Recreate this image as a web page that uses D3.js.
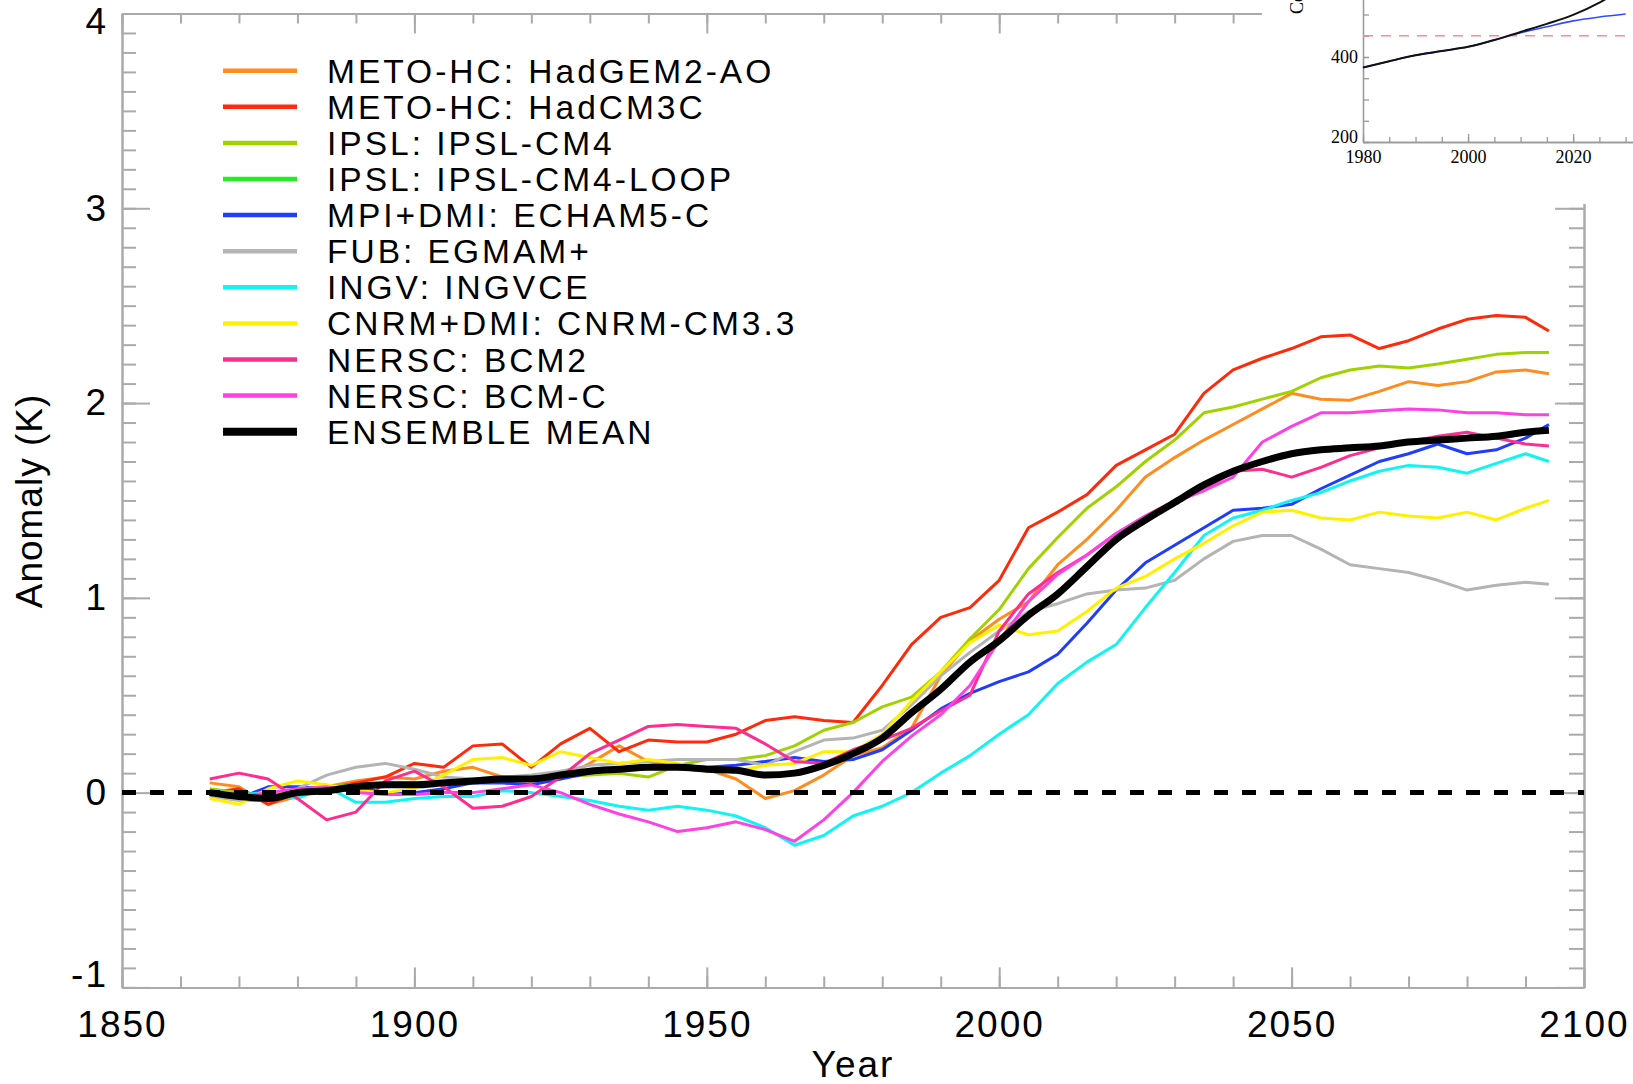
<!DOCTYPE html>
<html>
<head>
<meta charset="utf-8">
<script src="https://cdn.jsdelivr.net/npm/d3@7"></script>
<style>
  body { margin: 0; background: #fff; }
  svg { display: block; font-family: "Liberation Sans", Arial, sans-serif; }
</style>
</head>
<body>
<svg id="chart" width="1633" height="1084"></svg>
<script>
// sample years (read every 5 years off the figure, last point 2094)
const years = [1865, 1870, 1875, 1880, 1885, 1890, 1895, 1900, 1905, 1910, 1915, 1920, 1925, 1930, 1935,
  1940, 1945, 1950, 1955, 1960, 1965, 1970, 1975, 1980, 1985, 1990, 1995, 2000, 2005, 2010,
  2015, 2020, 2025, 2030, 2035, 2040, 2045, 2050, 2055, 2060, 2065, 2070, 2075, 2080, 2085,
  2090, 2094];

// temperature anomaly (K) per model
const hadgem2ao = [0.05, 0.03, -0.06, -0.02, 0.03, 0.06, 0.08, 0.07, 0.11, 0.13, 0.08, 0.06, 0.07, 0.15, 0.24,
  0.16, 0.13, 0.12, 0.07, -0.03, 0.01, 0.09, 0.19, 0.23, 0.33, 0.60, 0.78, 0.89, 0.98, 1.17,
  1.30, 1.45, 1.62, 1.72, 1.81, 1.89, 1.97, 2.05, 2.02, 2.015, 2.06, 2.11, 2.09, 2.11, 2.16,
  2.17, 2.15];
const hadcm3c = [0.0, 0.02, -0.06, 0.0, 0.02, 0.05, 0.08, 0.15, 0.13, 0.24, 0.25, 0.13, 0.25, 0.33, 0.21,
  0.27, 0.26, 0.26, 0.30, 0.37, 0.39, 0.37, 0.36, 0.55, 0.76, 0.90, 0.95, 1.09, 1.36, 1.44,
  1.53, 1.68, 1.76, 1.84, 2.05, 2.17, 2.23, 2.28, 2.34, 2.35, 2.28, 2.32, 2.38, 2.43, 2.45,
  2.44, 2.37];
const ipslcm4 = [0.02, 0.0, -0.02, 0.02, 0.03, 0.04, 0.05, 0.05, 0.06, 0.07, 0.07, 0.08, 0.08, 0.09, 0.10,
  0.08, 0.14, 0.17, 0.17, 0.19, 0.24, 0.32, 0.36, 0.44, 0.49, 0.62, 0.79, 0.94, 1.15, 1.31,
  1.46, 1.57, 1.70, 1.81, 1.95, 1.98, 2.02, 2.06, 2.13, 2.17, 2.19, 2.18, 2.20, 2.225, 2.25,
  2.26, 2.26];
const ipslcm4loop = []; // in the legend, no curve visible in the plot
const echam5c = [-0.01, -0.03, 0.03, 0.03, 0.02, 0.03, 0.0, 0.0, 0.02, 0.05, 0.05, 0.04, 0.07, 0.10, 0.12,
  0.13, 0.14, 0.13, 0.14, 0.16, 0.18, 0.16, 0.17, 0.22, 0.32, 0.43, 0.51, 0.57, 0.62, 0.71,
  0.87, 1.04, 1.18, 1.27, 1.36, 1.45, 1.46, 1.48, 1.56, 1.63, 1.70, 1.74, 1.79, 1.74, 1.76,
  1.82, 1.89];
const egmam = [-0.02, -0.04, -0.04, 0.02, 0.09, 0.13, 0.15, 0.12, 0.08, 0.07, 0.08, 0.09, 0.11, 0.14, 0.15,
  0.16, 0.17, 0.17, 0.17, 0.14, 0.21, 0.27, 0.28, 0.32, 0.45, 0.60, 0.72, 0.83, 0.93, 0.97,
  1.02, 1.04, 1.05, 1.09, 1.20, 1.29, 1.32, 1.32, 1.25, 1.17, 1.15, 1.13, 1.09, 1.04, 1.065,
  1.08, 1.07];
const ingvce = [0.01, -0.01, 0.0, -0.03, 0.03, -0.05, -0.05, -0.03, -0.02, -0.02, 0.01, 0.0, -0.02, -0.04, -0.07,
  -0.09, -0.07, -0.09, -0.12, -0.18, -0.27, -0.22, -0.12, -0.07, 0.0, 0.10, 0.19, 0.30, 0.40, 0.56,
  0.67, 0.76, 0.95, 1.13, 1.32, 1.41, 1.45, 1.50, 1.54, 1.60, 1.65, 1.68, 1.67, 1.64, 1.69,
  1.74, 1.70];
const cnrmcm33 = [-0.03, -0.06, 0.02, 0.06, 0.04, 0.01, 0.0, 0.02, 0.09, 0.17, 0.18, 0.14, 0.21, 0.18, 0.15,
  0.17, 0.15, 0.11, 0.11, 0.14, 0.15, 0.21, 0.21, 0.30, 0.47, 0.62, 0.77, 0.86, 0.81, 0.83,
  0.93, 1.05, 1.11, 1.20, 1.28, 1.37, 1.44, 1.45, 1.41, 1.40, 1.44, 1.42, 1.41, 1.44, 1.40,
  1.46, 1.50];
const bcm2 = [0.07, 0.10, 0.07, -0.03, -0.14, -0.10, 0.06, 0.11, 0.03, -0.08, -0.07, -0.02, 0.08, 0.20, 0.27,
  0.34, 0.35, 0.34, 0.33, 0.25, 0.16, 0.15, 0.22, 0.27, 0.33, 0.42, 0.50, 0.83, 1.02, 1.13,
  1.22, 1.33, 1.42, 1.50, 1.55, 1.65, 1.66, 1.62, 1.67, 1.73, 1.77, 1.80, 1.83, 1.85, 1.82,
  1.79, 1.78];
const bcmc = [0.0, -0.02, 0.0, 0.02, 0.03, 0.0, -0.01, -0.01, 0.0, 0.0, 0.02, 0.04, 0.0, -0.06, -0.11,
  -0.15, -0.20, -0.18, -0.15, -0.19, -0.25, -0.14, 0.0, 0.16, 0.29, 0.40, 0.55, 0.78, 0.98, 1.12,
  1.22, 1.33, 1.42, 1.49, 1.55, 1.62, 1.80, 1.88, 1.95, 1.95, 1.96, 1.97, 1.965, 1.95, 1.95,
  1.94, 1.94];
const ensembleMean = [0.0, -0.02, -0.03, 0.0, 0.01, 0.03, 0.04, 0.04, 0.05, 0.06, 0.07, 0.07, 0.09, 0.11, 0.12,
  0.13, 0.13, 0.12, 0.115, 0.09, 0.10, 0.14, 0.20, 0.28, 0.41, 0.53, 0.67, 0.78, 0.91, 1.02,
  1.16, 1.30, 1.40, 1.49, 1.58, 1.65, 1.70, 1.74, 1.76, 1.77, 1.78, 1.80, 1.81, 1.82, 1.83,
  1.85, 1.86];

const modelNames = ["METO-HC: HadGEM2-AO", "METO-HC: HadCM3C", "IPSL: IPSL-CM4", "IPSL: IPSL-CM4-LOOP",
  "MPI+DMI: ECHAM5-C", "FUB: EGMAM+", "INGV: INGVCE", "CNRM+DMI: CNRM-CM3.3",
  "NERSC: BCM2", "NERSC: BCM-C", "ENSEMBLE MEAN"];
const modelColors = ["#ff8c1e", "#ff2a0a", "#a0d200", "#22ee22", "#1f3dff", "#b4b4b4",
  "#10f4f4", "#fff000", "#ff2d8f", "#ff40e6", "#000000"];
const modelValues = [hadgem2ao, hadcm3c, ipslcm4, ipslcm4loop, echam5c, egmam, ingvce,
  cnrmcm33, bcm2, bcmc, ensembleMean];

// tick values
const yMajor = [-1, 0, 1, 2, 3, 4];
const xMajor = [1850, 1900, 1950, 2000, 2050, 2100];

// inset: CO2 concentration (ppm)
const co2Years = [1980, 1985, 1990, 1995, 2000, 2005, 2010, 2015, 2020, 2025, 2030];
const co2High = [375, 390, 404, 414, 424, 440, 459, 478, 499, 528, 565];
const co2Low = [375, 390, 404, 414, 424, 440, 457, 471, 485, 494, 501];
const co2Target = 450;
const co2Labels = [200, 400];
const co2YearLabels = [1980, 2000, 2020];

const svg = d3.select("#chart");
const axisColor = "#aaaaaa";
const plain = d => String(d); // plain hyphen minus, no thousands comma

// scales of the main plot
const x = d3.scaleLinear().domain([1850, 2100]).range([122, 1584]);
const y = d3.scaleLinear().domain([-1, 4]).range([987.4, 13.5]);

const yMinor = d3.range(-1, 4.001, 0.1).map(v => +v.toFixed(1));
const xMinor = d3.range(1850, 2101, 10);

function styleAxis(g) {
  g.selectAll("path.domain").attr("stroke", axisColor).attr("stroke-width", 2);
  g.selectAll(".tick line").attr("stroke", axisColor).attr("stroke-width", 2);
}

// left axis
svg.append("g").attr("transform", "translate(122,0)")
  .call(d3.axisLeft(y).tickValues(yMinor).tickSizeInner(-14).tickSizeOuter(0).tickFormat(""))
  .call(styleAxis);
const left = svg.append("g").attr("transform", "translate(122,0)")
  .call(d3.axisLeft(y).tickValues(yMajor).tickSizeInner(-28).tickSizeOuter(0).tickPadding(14).tickFormat(plain))
  .call(styleAxis);
left.selectAll("text")
  .attr("font-size", 37).attr("fill", "#000").style("letter-spacing", "2px")
  .attr("y", d => Math.min(Math.max(y(d), 22), 975) - y(d));

// right axis
svg.append("g").attr("transform", "translate(1584,0)")
  .call(d3.axisRight(y).tickValues(yMinor).tickSizeInner(-15).tickSizeOuter(0).tickFormat(""))
  .call(styleAxis);
svg.append("g").attr("transform", "translate(1584,0)")
  .call(d3.axisRight(y).tickValues(yMajor).tickSizeInner(-29).tickSizeOuter(0).tickFormat(""))
  .call(styleAxis);

// bottom axis
svg.append("g").attr("transform", "translate(0,987.4)")
  .call(d3.axisBottom(x).tickValues(xMinor).tickSizeInner(-11).tickSizeOuter(0).tickFormat(""))
  .call(styleAxis);
const bottom = svg.append("g").attr("transform", "translate(0,987.4)")
  .call(d3.axisBottom(x).tickValues(xMajor).tickSizeInner(-20).tickSizeOuter(0).tickPadding(23).tickFormat(plain))
  .call(styleAxis);
bottom.selectAll("text").attr("font-size", 37).attr("fill", "#000").style("letter-spacing", "2px");

// top axis
svg.append("g").attr("transform", "translate(0,13.5)")
  .call(d3.axisTop(x).tickValues(xMinor).tickSizeInner(-10).tickSizeOuter(0).tickFormat(""))
  .call(styleAxis);
svg.append("g").attr("transform", "translate(0,13.5)")
  .call(d3.axisTop(x).tickValues(xMajor).tickSizeInner(-20).tickSizeOuter(0).tickFormat(""))
  .call(styleAxis);

// axis titles
svg.append("text").attr("x", 853).attr("y", 1077)
  .attr("text-anchor", "middle").attr("font-size", 37).style("letter-spacing", "2px")
  .text("Year");
svg.append("text").attr("transform", "translate(42,501) rotate(-90)")
  .attr("text-anchor", "middle").attr("font-size", 37).style("letter-spacing", "1px")
  .text("Anomaly (K)");

// model curves
const line = d3.line()
  .x((d, i) => x(years[i]))
  .y(d => y(d));

modelValues.forEach((vals, k) => {
  if (!vals.length || k == modelValues.length - 1) return;
  svg.append("path")
    .attr("d", line(vals))
    .attr("fill", "none")
    .attr("stroke", modelColors[k])
    .attr("stroke-width", 3)
    .attr("stroke-linejoin", "round");
});

// zero line
svg.append("line")
  .attr("x1", x(1850)).attr("x2", x(2100))
  .attr("y1", y(0)).attr("y2", y(0))
  .attr("stroke", "#000").attr("stroke-width", 5)
  .attr("stroke-dasharray", "14,14");

// ensemble mean on top
svg.append("path")
  .attr("d", line.curve(d3.curveMonotoneX)(ensembleMean))
  .attr("fill", "none")
  .attr("stroke", "#000")
  .attr("stroke-width", 7)
  .attr("stroke-linejoin", "round");

// legend
const legend = svg.append("g");
modelNames.forEach((name, i) => {
  const ly = 70.7 + i * 36.1;
  legend.append("line")
    .attr("x1", 223).attr("x2", 297).attr("y1", ly).attr("y2", ly)
    .attr("stroke", modelColors[i])
    .attr("stroke-width", i == modelNames.length - 1 ? 8 : 4.5);
  legend.append("text")
    .attr("x", 327).attr("y", ly + 12)
    .attr("font-size", 33.5).style("letter-spacing", "3px")
    .text(name);
});

// inset with CO2 concentration
const inset = svg.append("g").attr("font-family", "'Liberation Serif', 'Times New Roman', serif");
inset.append("rect").attr("x", 1262).attr("y", 0).attr("width", 371).attr("height", 204).attr("fill", "#fff");

const xi = d3.scaleLinear().domain([1980, 2031.4]).range([1363, 1633]);
const yi = d3.scaleLinear().domain([200, 600]).range([142, -28]);
const insetAxis = g => g.selectAll("path, line").attr("stroke", "#999").attr("stroke-width", 1.3);

inset.append("g").attr("transform", "translate(1363,0)")
  .call(d3.axisLeft(yi).tickValues(d3.range(200, 601, 50)).tickSizeInner(-6).tickSizeOuter(0).tickFormat(""))
  .call(insetAxis);
const iy = inset.append("g").attr("transform", "translate(1363,0)")
  .call(d3.axisLeft(yi).tickValues(co2Labels).tickSizeInner(-6).tickSizeOuter(0).tickPadding(5).tickFormat(plain))
  .call(insetAxis);
iy.selectAll("text").attr("font-size", 18).attr("font-family", "'Liberation Serif', serif").attr("fill", "#000")
  .attr("y", d => Math.min(yi(d), 137) - yi(d));

inset.append("g").attr("transform", "translate(0,142)")
  .call(d3.axisBottom(xi).tickValues(d3.range(1980, 2031, 5)).tickSizeInner(-5).tickSizeOuter(0).tickFormat(""))
  .call(insetAxis);
const ix = inset.append("g").attr("transform", "translate(0,142)")
  .call(d3.axisBottom(xi).tickValues(co2YearLabels).tickSizeInner(-8).tickSizeOuter(0).tickPadding(8).tickFormat(plain))
  .call(insetAxis);
ix.selectAll("text").attr("font-size", 18).attr("font-family", "'Liberation Serif', serif").attr("fill", "#000");

// y title of the inset, cut by the top edge as in the source figure
inset.append("text")
  .attr("transform", "translate(1303,14) rotate(-90)")
  .attr("font-size", 18)
  .text("Concentration (ppm)");

inset.append("line")
  .attr("x1", xi(1980)).attr("x2", 1633)
  .attr("y1", yi(co2Target)).attr("y2", yi(co2Target))
  .attr("stroke", "#ff8a8a").attr("stroke-width", 1.5)
  .attr("stroke-dasharray", "10,8");

const co2Line = d3.line().curve(d3.curveMonotoneX)
  .x((d, i) => xi(co2Years[i]))
  .y(d => yi(d));
inset.append("path").attr("d", co2Line(co2Low))
  .attr("fill", "none").attr("stroke", "#2e4dff").attr("stroke-width", 1.6);
inset.append("path").attr("d", co2Line(co2High))
  .attr("fill", "none").attr("stroke", "#111").attr("stroke-width", 2);
</script>
</body>
</html>
